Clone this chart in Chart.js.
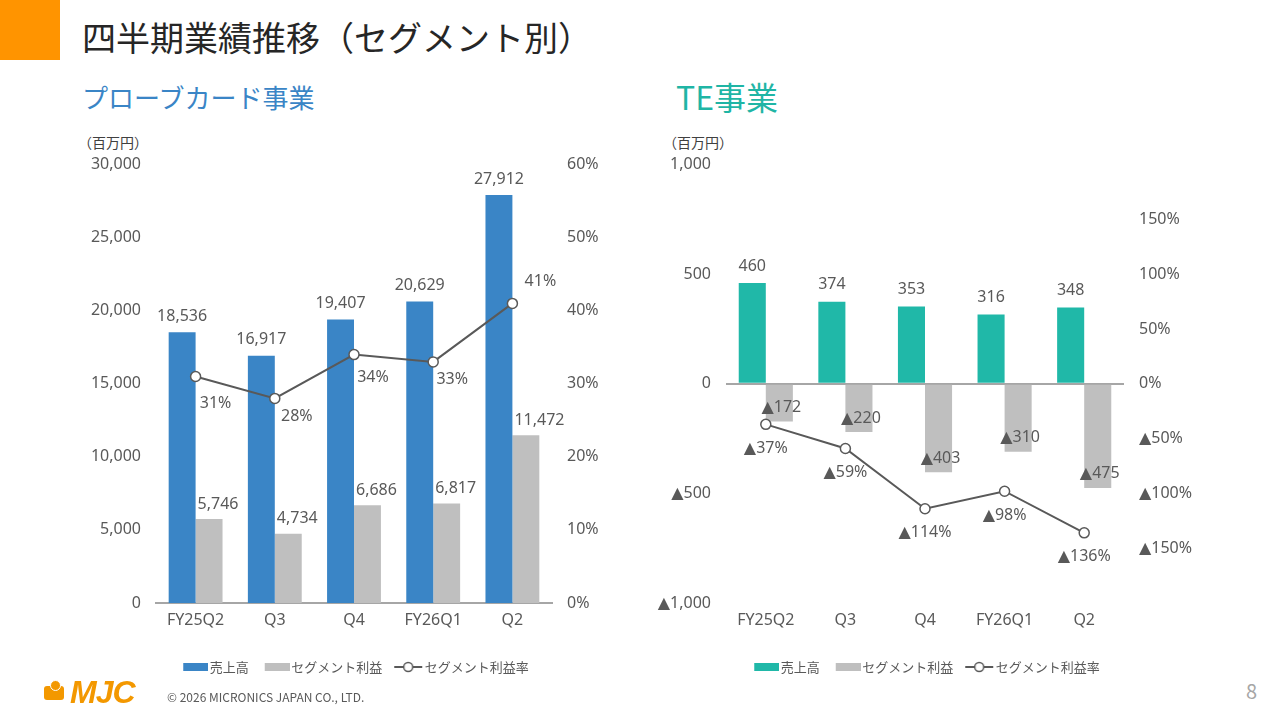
<!DOCTYPE html>
<html><head><meta charset="utf-8">
<script src="https://cdn.jsdelivr.net/npm/chart.js@4.4.1/dist/chart.umd.min.js"></script>
<style>
html,body{margin:0;padding:0;background:#fff;width:1280px;height:720px;overflow:hidden;font-family:"Noto Sans CJK JP","Noto Sans",sans-serif;}
.abs{position:absolute;white-space:nowrap;}
#sq{left:0;top:0;width:60px;height:60px;background:#FF9400;}
#title{left:82px;top:14px;font-size:34px;line-height:46px;color:#262626;}
.sub{font-size:26px;line-height:34px;}
#subL{left:82px;top:79.5px;color:#3A85C6;}
#subR{left:676px;top:75.5px;font-size:32px;line-height:40px;color:#1FB5A5;}
.unit{top:132px;font-size:14px;line-height:20px;color:#404040;}
#unitL{left:78px;}
#unitR{left:663px;}
#cwL{left:70px;top:140px;width:572px;height:550px;}
#cwR{left:650px;top:140px;width:554px;height:550px;}
#copy{left:167px;top:689px;font-size:12px;line-height:16px;color:#595959;}
#page{left:1246px;top:678px;font-size:20px;line-height:26px;color:#A6A6A6;}
#logoIcon{left:44px;top:686px;width:20px;height:14px;background:#F39800;border-radius:3px;}
#logoDot{left:50px;top:680px;width:9px;height:9px;background:#F39800;border-radius:50%;border:1px solid #fff;}
#logoTxt{left:70px;top:672px;font-family:"Liberation Sans",sans-serif;font-weight:bold;font-style:italic;font-size:32px;line-height:40px;color:#F39800;letter-spacing:-1px;}
</style></head>
<body>
<div class="abs" id="sq"></div>
<div class="abs" id="title">四半期業績推移（セグメント別）</div>
<div class="abs sub" id="subL">プローブカード事業</div>
<div class="abs sub" id="subR">TE事業</div>
<div class="abs unit" id="unitL">（百万円）</div>
<div class="abs unit" id="unitR">（百万円）</div>
<div class="abs" id="cwL"><canvas id="chartL"></canvas></div>
<div class="abs" id="cwR"><canvas id="chartR"></canvas></div>
<div class="abs" id="logoIcon"></div>
<div class="abs" id="logoDot"></div>
<div class="abs" id="logoTxt">MJC</div>
<div class="abs" id="copy">© 2026 MICRONICS JAPAN CO., LTD.</div>
<div class="abs" id="page">8</div>
<script>
// ---- data ----
const categories = ['FY25Q2', 'Q3', 'Q4', 'FY26Q1', 'Q2'];
const seriesNames = ['売上高', 'セグメント利益', 'セグメント利益率'];
const pcSales = [18536, 16917, 19407, 20629, 27912];
const pcProfit = [5746, 4734, 6686, 6817, 11472];
const pcMargin = [31, 28, 34, 33, 41];
const teSales = [460, 374, 353, 316, 348];
const teProfit = [-172, -220, -403, -310, -475];
const teMargin = [-37, -59, -114, -98, -136];

// ---- styles ----
const F = '"Noto Sans", "DejaVu Sans", "Noto Sans CJK JP", sans-serif';
const FJ = '"Noto Sans CJK JP", "Noto Sans", sans-serif';
const TXT = '#595959';
const BLUE = '#3A85C6';
const TEAL = '#20B8A8';
const GRAY = '#BFBFBF';
const LINE = '#595959';

function fmtNum(v) {
  const s = Math.abs(v).toLocaleString('en-US');
  return v < 0 ? '▲' + s : s;
}
function fmtPct(v) {
  return v < 0 ? '▲' + Math.abs(v) + '%' : v + '%';
}

function rectImg(color) {
  const c = document.createElement('canvas');
  c.width = 30; c.height = 10;
  const x = c.getContext('2d');
  x.fillStyle = color;
  x.fillRect(5, 1, 25, 8);
  return c;
}
function lineImg() {
  const c = document.createElement('canvas');
  c.width = 30; c.height = 12;
  const x = c.getContext('2d');
  x.strokeStyle = LINE; x.lineWidth = 2;
  x.beginPath(); x.moveTo(1, 6); x.lineTo(29, 6); x.stroke();
  x.beginPath(); x.arc(15, 6, 4.5, 0, Math.PI * 2);
  x.fillStyle = '#fff'; x.fill(); x.lineWidth = 1.5; x.stroke();
  return c;
}

const labelPlugin = {
  id: 'vlabels',
  afterDatasetsDraw(chart, args, opts) {
    const ctx = chart.ctx;
    ctx.save();
    ctx.font = '16px ' + F;
    ctx.fillStyle = TXT;
    ctx.textBaseline = 'middle';
    (opts.sets || []).forEach((cfg, di) => {
      const meta = chart.getDatasetMeta(di);
      const ds = chart.data.datasets[di];
      meta.data.forEach((el, j) => {
        const v = ds.data[j];
        const txt = cfg.pct ? fmtPct(v) : fmtNum(v);
        let x = el.x, y = el.y;
        const dx = Array.isArray(cfg.dx) ? cfg.dx[j] : (cfg.dx || 0);
        const dy = Array.isArray(cfg.dy) ? cfg.dy[j] : (cfg.dy || 0);
        if (cfg.align === 'barLeft') {
          ctx.textAlign = 'left';
          x = el.x - el.width / 2;
        } else {
          ctx.textAlign = 'center';
        }
        ctx.fillText(txt, x + dx, y + dy);
      });
    });
    ctx.restore();
  }
};

function legendOpts(colors) {
  const imgs = [rectImg(colors[0]), rectImg(colors[1]), lineImg()];
  return {
    position: 'bottom',
    labels: {
      usePointStyle: true,
      pointStyleWidth: 20,
      padding: 16,
      color: TXT,
      font: { size: 13, family: FJ },
      sort: (a, b) => a.datasetIndex - b.datasetIndex,
      generateLabels: (chart) => {
        const items = Chart.defaults.plugins.legend.labels.generateLabels(chart);
        items.forEach(it => { it.pointStyle = imgs[it.datasetIndex]; });
        return items;
      }
    }
  };
}

function tickFont() { return { size: 16, family: F }; }

// ---- left chart ----
new Chart(document.getElementById('chartL'), {
  type: 'bar',
  data: {
    labels: categories,
    datasets: [
      { label: seriesNames[0], data: pcSales, backgroundColor: BLUE, yAxisID: 'y', order: 1,
        categoryPercentage: 0.68, barPercentage: 1.0 },
      { label: seriesNames[1], data: pcProfit, backgroundColor: GRAY, yAxisID: 'y', order: 1,
        categoryPercentage: 0.68, barPercentage: 1.0 },
      { type: 'line', label: seriesNames[2], data: pcMargin, yAxisID: 'y1', order: 0,
        borderColor: LINE, borderWidth: 2, pointRadius: 5, pointBackgroundColor: '#fff',
        pointBorderColor: LINE, pointBorderWidth: 1.5, fill: false, tension: 0 }
    ]
  },
  options: {
    responsive: true, maintainAspectRatio: false, animation: false,
    layout: { padding: { top: 1, bottom: 6.5, left: 0, right: 0 } },
    plugins: {
      legend: legendOpts([BLUE, GRAY]),
      tooltip: { enabled: false },
      vlabels: { sets: [
        { dy: -16 },
        { align: 'barLeft', dx: 2, dy: -15 },
        { pct: true, dx: [20, 22, 19, 19, 28], dy: [27, 18, 23, 18, -22] }
      ] }
    },
    scales: {
      x: {
        grid: { display: false, drawTicks: false },
        border: { display: true, color: '#A6A6A6', width: 2 },
        ticks: { color: TXT, font: tickFont(), padding: 8 },
        afterFit: s => { s.height = 41.5; }
      },
      y: {
        position: 'left', min: 0, max: 30000,
        grid: { display: false, drawTicks: false }, border: { display: false },
        ticks: { stepSize: 5000, color: TXT, font: tickFont(), padding: 15, callback: v => fmtNum(v) },
        afterFit: s => { s.width = 86; }
      },
      y1: {
        position: 'right', min: 0, max: 60,
        grid: { display: false, drawTicks: false }, border: { display: false },
        ticks: { stepSize: 10, color: TXT, font: tickFont(), padding: 15, callback: v => fmtPct(v) },
        afterFit: s => { s.width = 90; }
      }
    }
  },
  plugins: [labelPlugin]
});

// ---- right chart ----
new Chart(document.getElementById('chartR'), {
  type: 'bar',
  data: {
    labels: categories,
    datasets: [
      { label: seriesNames[0], data: teSales, backgroundColor: TEAL, yAxisID: 'y', order: 1,
        categoryPercentage: 0.68, barPercentage: 1.0 },
      { label: seriesNames[1], data: teProfit, backgroundColor: GRAY, yAxisID: 'y', order: 1,
        categoryPercentage: 0.68, barPercentage: 1.0 },
      { type: 'line', label: seriesNames[2], data: teMargin, yAxisID: 'y1', order: 0,
        borderColor: LINE, borderWidth: 2, pointRadius: 5, pointBackgroundColor: '#fff',
        pointBorderColor: LINE, pointBorderWidth: 1.5, fill: false, tension: 0 }
    ]
  },
  options: {
    responsive: true, maintainAspectRatio: false, animation: false,
    layout: { padding: { top: 1, bottom: 6.5, left: 0, right: 0 } },
    plugins: {
      legend: legendOpts([TEAL, GRAY]),
      tooltip: { enabled: false },
      vlabels: { sets: [
        { dy: -17 },
        { dx: 2, dy: -14 },
        { pct: true, dy: 24 }
      ] }
    },
    scales: {
      x: {
        grid: { display: false, drawTicks: false },
        border: { display: false },
        ticks: { color: TXT, font: tickFont(), padding: 8 },
        afterFit: s => { s.height = 41.5; }
      },
      y: {
        position: 'left', min: -1000, max: 1000,
        grid: { display: true, drawTicks: false, lineWidth: 2,
          color: c => (c.tick && c.tick.value === 0) ? '#A6A6A6' : 'rgba(0,0,0,0)' },
        border: { display: false },
        ticks: { stepSize: 500, color: TXT, font: tickFont(), padding: 15, callback: v => fmtNum(v) },
        afterFit: s => { s.width = 76; }
      },
      y1: {
        position: 'right', min: -200, max: 200,
        grid: { display: false, drawTicks: false }, border: { display: false },
        ticks: { stepSize: 50, color: TXT, font: tickFont(), padding: 15,
          callback: v => (Math.abs(v) >= 200 ? '' : fmtPct(v)) },
        afterFit: s => { s.width = 80; }
      }
    }
  },
  plugins: [labelPlugin]
});
</script>
</body></html>
